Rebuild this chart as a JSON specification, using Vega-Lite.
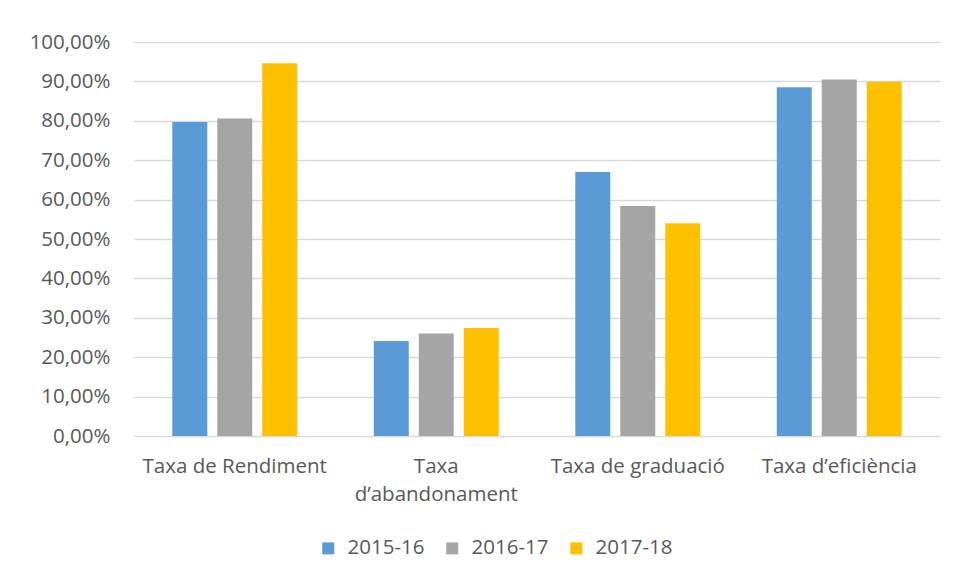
{
  "$schema": "https://vega.github.io/schema/vega-lite/v6.json",
  "width": 806,
  "height": 394,
  "autosize": {"type": "none"},
  "padding": {"left": 134, "top": 42, "right": 17, "bottom": 145},
  "background": "white",
  "config": {
    "locale": {"number": {"decimal": ",", "thousands": ".", "grouping": [3], "currency": ["", " €"]}},
    "font": "Open Sans",
    "view": {"stroke": null}
  },
  "data": {
    "values": [
      {"taxa": "Taxa de Rendiment", "curs": "2015-16", "valor": 0.797},
      {"taxa": "Taxa de Rendiment", "curs": "2016-17", "valor": 0.806},
      {"taxa": "Taxa de Rendiment", "curs": "2017-18", "valor": 0.946},
      {"taxa": "Taxa d’abandonament", "curs": "2015-16", "valor": 0.241},
      {"taxa": "Taxa d’abandonament", "curs": "2016-17", "valor": 0.260},
      {"taxa": "Taxa d’abandonament", "curs": "2017-18", "valor": 0.274},
      {"taxa": "Taxa de graduació", "curs": "2015-16", "valor": 0.670},
      {"taxa": "Taxa de graduació", "curs": "2016-17", "valor": 0.584},
      {"taxa": "Taxa de graduació", "curs": "2017-18", "valor": 0.540},
      {"taxa": "Taxa d’eficiència", "curs": "2015-16", "valor": 0.885},
      {"taxa": "Taxa d’eficiència", "curs": "2016-17", "valor": 0.905},
      {"taxa": "Taxa d’eficiència", "curs": "2017-18", "valor": 0.899}
    ]
  },
  "mark": {"type": "bar"},
  "encoding": {
    "x": {
      "field": "taxa",
      "type": "nominal",
      "sort": ["Taxa de Rendiment", "Taxa d’abandonament", "Taxa de graduació", "Taxa d’eficiència"],
      "scale": {"paddingInner": 0.38, "paddingOuter": 0.19},
      "axis": {
        "title": null,
        "labelAngle": 0,
        "domain": false,
        "ticks": false,
        "labelFontSize": 20.5,
        "labelColor": "#595959",
        "labelPadding": 20,
        "labelLineHeight": 28,
        "labelLimit": 260,
        "labelExpr": "datum.label == 'Taxa d’abandonament' ? ['Taxa', 'd’abandonament'] : datum.label"
      }
    },
    "xOffset": {
      "field": "curs",
      "type": "nominal",
      "scale": {"paddingInner": 0.222, "paddingOuter": 0}
    },
    "y": {
      "field": "valor",
      "type": "quantitative",
      "scale": {"domain": [0, 1], "nice": false},
      "axis": {
        "title": null,
        "format": ".2%",
        "values": [0, 0.1, 0.2, 0.3, 0.4, 0.5, 0.6, 0.7, 0.8, 0.9, 1],
        "domain": false,
        "ticks": false,
        "labelFontSize": 20.5,
        "labelColor": "#595959",
        "labelPadding": 24,
        "gridColor": "#D9D9D9",
        "gridWidth": 1.3
      }
    },
    "color": {
      "field": "curs",
      "type": "nominal",
      "scale": {"domain": ["2015-16", "2016-17", "2017-18"], "range": ["#5B9BD5", "#A5A5A5", "#FFC000"]},
      "legend": {
        "title": null,
        "orient": "none",
        "legendX": 184,
        "legendY": 496,
        "direction": "horizontal",
        "symbolType": "square",
        "symbolSize": 144,
        "symbolStrokeWidth": 0,
        "labelFontSize": 20.5,
        "labelColor": "#595959",
        "labelOffset": 9,
        "columnPadding": 17
      }
    }
  }
}
